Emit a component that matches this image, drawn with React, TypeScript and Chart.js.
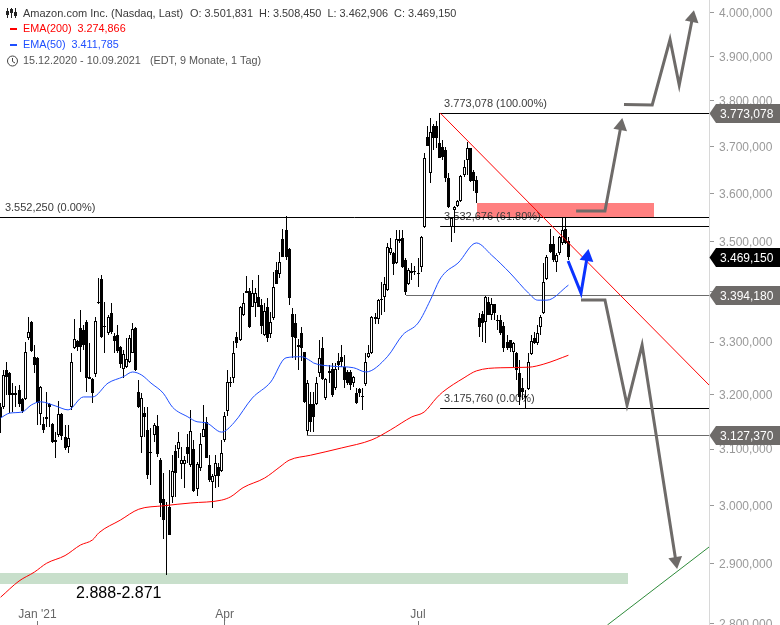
import { useEffect, useRef } from 'react';
import { Chart, registerables, type Plugin } from 'chart.js';

Chart.register(...registerables);

const FONT = '"Liberation Sans", Arial, sans-serif';

// daily candles, 15.12.2020 - 10.09.2021, in USD
const opens = [
  3177, 3177, 3247, 3241, 3200, 3200, 3209, 3192, 3192, 3308, 3339, 3272, 3270, 3164, 3146, 3155, 3183, 3146, 3117, 3126,
  3164, 3122, 3104, 3177, 3289, 3302, 3327, 3323, 3339, 3230, 3230, 3239, 3378, 3424, 3331, 3318, 3357, 3312, 3314, 3291,
  3249, 3252, 3262, 3279, 3327, 3205, 3122, 3166, 3135, 3095, 3126, 3142, 3080, 3011, 3000, 2997, 3015, 3097, 3100, 3073,
  3073, 3104, 3071, 3100, 3029, 3066, 3122, 3150, 3071, 3041, 3052, 3068, 3061, 3117, 3170, 3224, 3232, 3310, 3304, 3353,
  3400, 3400, 3368, 3376, 3388, 3372, 3314, 3368, 3316, 3347, 3442, 3434, 3505, 3524, 3485, 3355, 3337, 3295, 3318, 3281,
  3133, 3183, 3183, 3183, 3241, 3289, 3194, 3241, 3249, 3213, 3264, 3272, 3252, 3243, 3243, 3222, 3203, 3211, 3198, 3220,
  3272, 3279, 3349, 3345, 3384, 3388, 3402, 3476, 3476, 3456, 3501, 3507, 3462, 3414, 3436, 3438, 3436, 3448, 3530, 3720,
  3643, 3744, 3744, 3707, 3699, 3692, 3632, 3530, 3565, 3573, 3584, 3639, 3671, 3697, 3645, 3628, 3347, 3355, 3339, 3378,
  3353, 3374, 3341, 3343, 3331, 3300, 3304, 3281, 3279, 3241, 3213, 3198, 3211, 3277, 3308, 3298, 3329, 3357, 3424, 3495,
  3495, 3458, 3476, 3497, 3526, 3501.831,
];
const highs = [
  3185, 3247, 3262, 3243, 3222, 3217, 3219, 3194, 3300, 3349, 3341, 3295, 3272, 3217, 3159, 3205, 3185, 3148, 3131, 3189,
  3166, 3144, 3144, 3279, 3345, 3304, 3363, 3333, 3343, 3298, 3232, 3349, 3426, 3432, 3378, 3353, 3376, 3318, 3333, 3293,
  3285, 3308, 3314, 3337, 3329, 3228, 3203, 3177, 3177, 3139, 3148, 3163, 3084, 3057, 3006, 3063, 3090, 3108, 3131, 3104,
  3088, 3128, 3172, 3117, 3077, 3129, 3181, 3159, 3090, 3055, 3090, 3075, 3117, 3168, 3247, 3233, 3302, 3320, 3370, 3396,
  3430, 3406, 3422, 3406, 3432, 3384, 3376, 3386, 3359, 3438, 3458, 3479, 3526, 3553, 3487, 3367, 3355, 3306, 3329, 3281,
  3228, 3205, 3205, 3233, 3304, 3310, 3232, 3256, 3260, 3260, 3279, 3295, 3275, 3247, 3247, 3235, 3213, 3213, 3213, 3279,
  3295, 3351, 3357, 3384, 3418, 3428, 3497, 3507, 3478, 3524, 3524, 3524, 3466, 3446, 3456, 3450, 3466, 3511, 3686, 3744,
  3762, 3749, 3755, 3773, 3714, 3699, 3643, 3548, 3573, 3586, 3639, 3671, 3710, 3697, 3649, 3637, 3357, 3361, 3390, 3388,
  3386, 3374, 3353, 3353, 3339, 3314, 3304, 3300, 3281, 3266, 3232, 3209, 3279, 3314, 3320, 3333, 3353, 3456, 3472, 3526,
  3511, 3476, 3511, 3548, 3548, 3508.45,
];
const lows = [
  3129, 3174, 3200, 3166, 3168, 3177, 3177, 3166, 3190, 3304, 3281, 3241, 3144, 3144, 3129, 3140, 3140, 3111, 3084, 3122,
  3117, 3099, 3093, 3172, 3287, 3283, 3243, 3285, 3205, 3230, 3185, 3233, 3374, 3308, 3279, 3314, 3316, 3279, 3279, 3250,
  3232, 3250, 3260, 3279, 3245, 3175, 3093, 3122, 3047, 3036, 3113, 3086, 2980, 2942, 2880, 2948, 3004, 3015, 3084, 3047,
  3031, 3075, 3068, 3023, 3016, 3061, 3122, 3084, 3041, 2995, 3031, 3033, 3059, 3113, 3161, 3215, 3222, 3289, 3302, 3351,
  3396, 3327, 3368, 3349, 3368, 3316, 3312, 3300, 3308, 3343, 3414, 3426, 3468, 3462, 3372, 3270, 3266, 3247, 3264, 3185,
  3126, 3131, 3131, 3181, 3233, 3228, 3190, 3222, 3196, 3209, 3247, 3252, 3213, 3218, 3209, 3215, 3183, 3196, 3172, 3217,
  3270, 3277, 3335, 3335, 3353, 3359, 3400, 3472, 3432, 3454, 3497, 3446, 3392, 3412, 3422, 3432, 3408, 3438, 3528, 3701,
  3622, 3692, 3697, 3675, 3671, 3624, 3569, 3499, 3517, 3571, 3582, 3635, 3639, 3624, 3605, 3580, 3310, 3300, 3298, 3353,
  3343, 3343, 3323, 3314, 3281, 3285, 3281, 3252, 3228, 3181, 3190, 3174, 3209, 3275, 3296, 3295, 3314, 3355, 3422, 3476,
  3458, 3438, 3472, 3493, 3495, 3462.906,
];
const closes = [
  3159, 3237, 3233, 3200, 3203, 3203, 3183, 3170, 3281, 3320, 3283, 3256, 3185, 3215, 3135, 3159, 3177, 3113, 3113, 3164,
  3124, 3102, 3120, 3262, 3306, 3291, 3291, 3295, 3232, 3233, 3203, 3341, 3378, 3310, 3329, 3349, 3320, 3302, 3283, 3258,
  3277, 3268, 3308, 3325, 3247, 3177, 3194, 3159, 3054, 3093, 3144, 3091, 3004, 2974, 2999, 2948, 3061, 3057, 3113, 3080,
  3080, 3091, 3133, 3025, 3073, 3109, 3137, 3084, 3045, 3052, 3075, 3052, 3093, 3161, 3224, 3222, 3279, 3298, 3368, 3376,
  3396, 3329, 3396, 3396, 3368, 3331, 3361, 3308, 3339, 3408, 3414, 3458, 3468, 3468, 3386, 3310, 3308, 3291, 3289, 3187,
  3222, 3150, 3159, 3222, 3270, 3230, 3230, 3245, 3200, 3249, 3256, 3262, 3228, 3222, 3218, 3233, 3185, 3203, 3196, 3262,
  3279, 3349, 3345, 3382, 3382, 3414, 3489, 3487, 3454, 3505, 3505, 3448, 3398, 3442, 3440, 3440, 3434, 3509, 3675, 3701,
  3731, 3718, 3718, 3675, 3677, 3632, 3571, 3548, 3571, 3584, 3637, 3656, 3697, 3626, 3626, 3601, 3329, 3337, 3388, 3353,
  3374, 3357, 3343, 3318, 3289, 3289, 3289, 3298, 3247, 3196, 3205, 3196, 3262, 3302, 3298, 3318, 3349, 3418, 3468, 3479,
  3462, 3472, 3509, 3524, 3497, 3469.15,
];

const ema200Bars = [0, 6, 11, 15, 21, 26, 30, 32, 39, 45, 53, 62, 72, 75, 79, 86, 91, 94, 101, 111, 121, 127, 134, 138, 142, 144, 151, 155, 163, 172, 177, 185];
const ema200Values = [2843, 2870, 2885, 2900, 2913, 2931, 2940, 2952, 2974, 2993, 2999, 3004, 3009, 3015, 3031, 3048, 3068, 3080, 3089, 3102, 3117, 3135, 3159, 3168, 3194, 3205, 3232, 3245, 3251, 3252, 3258, 3274.866];
const ema50Bars = [0, 3, 7, 10, 13, 18, 22, 27, 30, 35, 40, 43, 46, 49, 53, 56, 61, 64, 67, 72, 76, 82, 88, 93, 98, 101, 102, 108, 115, 119, 126, 131, 136, 140, 143, 145, 149, 155, 160, 166, 172, 175, 178, 185];
const ema50Values = [3157, 3166, 3168, 3181, 3187, 3179, 3172, 3196, 3196, 3222, 3234, 3243, 3237, 3222, 3203, 3177, 3159, 3150, 3148, 3131, 3148, 3194, 3224, 3270, 3272, 3264, 3260, 3254, 3251, 3243, 3272, 3314, 3337, 3382, 3422, 3438, 3456, 3497, 3472, 3436, 3396, 3382, 3382, 3411.785];

const yTicks = [4000, 3900, 3800, 3700, 3600, 3500, 3400, 3300, 3200, 3100, 3000, 2900, 2800];
const monthBars = [12, 73, 136];
const monthLabels = ["Jan '21", 'Apr', 'Jul'];

// horizontal levels drawn on the chart
const levelValues = [3552.25, 3773.078, 3532.676, 3175.76, 3394.18, 3127.37];
const levelStarts = [-0.2, 143.2, 143.2, 143.2, 132.1, 99.8];
const levelColors = ['#000', '#000', '#000', '#000', '#6b6b6b', '#6b6b6b'];

const fibValues = [3773.078, 3552.25, 3532.676, 3175.76];
const fibBars = [144.5, 1.4, 144.5, 144.5];
const fibLabels = ['3.773,078 (100.00%)', '3.552,250 (0.00%)', '3.532,676 (61.80%)', '3.175,760 (0.00%)'];

const tagValues = [3773.078, 3469.15, 3394.18, 3127.37];
const tagLabels = ['3.773,078', '3.469,150', '3.394,180', '3.127,370'];
const tagColors = ['#6e6b69', '#000', '#6e6b69', '#6e6b69'];

// trend lines and hand drawn paths, [bar, price]
const redTrend = [[143.2, 3773], [230.8, 3218.4]];
const greenTrend = [[197.7, 2797.2], [230.8, 2927.6]];
const upArrowA = [[187.5, 3562.9], [196.9, 3562.9], [202.1, 3744.4]];
const upArrowB = [[203.1, 3791.7], [212.3, 3790.6], [218.1, 3938.5], [221.1, 3835.2], [225.4, 3988.3]];
const blueArrow = [[184.9, 3460.3], [189.1, 3396.1], [191.1, 3468.4]];
const downArrow = [[189.1, 3382.3], [196.9, 3382.3], [204.1, 3180.9], [209, 3294.5], [220, 2903.8]];

const Y_MIN = 2797.2;
const Y_MAX = 4030.5;
const X_MIN = -0.1955;
const X_MAX = 230.8;

const toPoints = (rows: number[][]) => rows.map(([x, y]) => ({ x, y }));

// levels sit on the pixel row just under their scale position
const levelRow = (pixel: number) => Math.floor(pixel + 1) + 0.5;

function arrow(rows: number[][], color: string, rotation: number) {
  return {
    type: 'line' as const,
    data: toPoints(rows),
    borderColor: color,
    borderWidth: 3,
    borderJoinStyle: 'miter' as const,
    tension: 0,
    order: 0,
    pointStyle: 'triangle',
    pointRadius: rows.map((_, i) => (i === rows.length - 1 ? 8 : 0)),
    pointRotation: rotation,
    pointBackgroundColor: color,
    pointBorderWidth: 0,
  };
}

const snapPlugin: Plugin = {
  id: 'snap',
  afterDatasetsUpdate(chart) {
    chart.data.datasets.forEach((ds: any, i) => {
      const meta = chart.getDatasetMeta(i);
      if (meta.type === 'bar') {
        meta.data.forEach((el: any) => {
          el.x = Math.round(el.x - 0.5) + 0.5;
          el.y = Math.round(el.y);
          el.base = Math.round(el.base);
          if (el.y === el.base) el.base = el.y + 1;
        });
      } else if (ds.snapLevel) {
        meta.data.forEach((el: any) => {
          el.y = levelRow(el.y);
        });
      }
    });
  },
  beforeDraw(chart) {
    // axis labels sit a pixel lower than the tick marks
    (chart.scales.y as any).getLabelItems().forEach((item: any) => {
      if (item.moved) return;
      item.moved = true;
      item.options.translation[1] += 1;
    });
  },
};

const backdropPlugin: Plugin = {
  id: 'backdrop',
  beforeDatasetsDraw(chart) {
    const { ctx, scales } = chart;
    const x = scales.x;
    const y = scales.y;
    ctx.save();

    // zones
    const zone = (x0: number, x1: number, top: number, bottom: number, color: string) => {
      ctx.fillStyle = color;
      const py = Math.round(y.getPixelForValue(top));
      ctx.fillRect(Math.round(x.getPixelForValue(x0)), py, Math.round(x.getPixelForValue(x1) - x.getPixelForValue(x0)), Math.round(y.getPixelForValue(bottom)) - py);
    };
    zone(155.3, 212.9, 3580, 3548, '#ff8080');
    zone(-0.2, 204.3, 2883, 2865, '#c8dfcb');

    ctx.textBaseline = 'alphabetic';
    ctx.textAlign = 'left';
    ctx.font = `11px ${FONT}`;
    ctx.fillStyle = '#3a3a3a';
    fibLabels.forEach((label, i) => {
      ctx.fillText(label, x.getPixelForValue(fibBars[i]), Math.ceil(y.getPixelForValue(fibValues[i])) - 6);
    });

    ctx.font = `16px ${FONT}`;
    ctx.fillStyle = '#000';
    ctx.fillText('2.888-2.871', x.getPixelForValue(24.6), y.getPixelForValue(2865) + 14);
    ctx.restore();
  },
};

const overlayPlugin: Plugin = {
  id: 'overlay',
  afterDraw(chart) {
    const { ctx, scales } = chart;
    const y = scales.y;
    ctx.save();

    // price tags over the axis
    ctx.font = `12px ${FONT}`;
    ctx.textAlign = 'left';
    ctx.textBaseline = 'middle';
    tagValues.forEach((value, i) => {
      const py = levelRow(y.getPixelForValue(value));
      ctx.fillStyle = tagColors[i];
      ctx.beginPath();
      ctx.moveTo(709.5, py);
      ctx.lineTo(716, py - 9.5);
      ctx.lineTo(780, py - 9.5);
      ctx.lineTo(780, py + 9.5);
      ctx.lineTo(716, py + 9.5);
      ctx.closePath();
      ctx.fill();
      ctx.fillStyle = '#fff';
      ctx.fillText(tagLabels[i], 720, py + 1);
    });

    // legend block
    ctx.font = `11px ${FONT}`;
    ctx.textBaseline = 'middle';
    ctx.fillStyle = '#3a3a3a';
    ctx.fillText('Amazon.com Inc. (Nasdaq, Last)', 23, 13.5);
    ctx.font = `10.9px ${FONT}`;
    ctx.fillText('O: 3.501,831  H: 3.508,450  L: 3.462,906  C: 3.469,150', 190, 13.5);
    ctx.font = `10.8px ${FONT}`;
    ctx.fillStyle = '#ff0000';
    ctx.fillText('EMA(200)  3.274,866', 23, 29.5);
    ctx.fillRect(10, 28, 7, 2);
    ctx.fillStyle = '#1f4fff';
    ctx.fillText('EMA(50)  3.411,785', 23, 45.5);
    ctx.fillRect(10, 44, 7, 2);
    ctx.fillStyle = '#555';
    ctx.fillText('15.12.2020 - 10.09.2021', 23, 61.5);
    ctx.fillText('(EDT, 9 Monate, 1 Tag)', 150, 61.5);

    // clock
    ctx.strokeStyle = '#444';
    ctx.lineWidth = 1;
    ctx.beginPath();
    ctx.arc(12.5, 61, 5, 0, Math.PI * 2);
    ctx.moveTo(12.5, 58);
    ctx.lineTo(12.5, 61.5);
    ctx.lineTo(15, 63);
    ctx.stroke();

    // candle icon
    ctx.strokeStyle = '#222';
    [[7.5, 11, 15], [11.5, 9, 13], [15.5, 12, 16]].forEach(([ix, top, bottom]) => {
      ctx.beginPath();
      ctx.moveTo(ix, 8);
      ctx.lineTo(ix, 18);
      ctx.stroke();
      ctx.fillStyle = '#222';
      ctx.fillRect(ix - 1.5, top, 3, bottom - top);
    });
    ctx.restore();
  },
};

export default function App() {
  const canvasRef = useRef<HTMLCanvasElement>(null);

  useEffect(() => {
    if (!canvasRef.current) return;
    document.body.style.margin = '0';

    const chart = new Chart(canvasRef.current, {
      type: 'bar',
      data: {
        datasets: [
          {
            type: 'bar',
            data: opens.map((o, i) => ({ x: i, y: [o, closes[i]] })) as any,
            barThickness: 3,
            grouped: false,
            borderWidth: 1,
            borderColor: '#000',
            borderSkipped: false,
            inflateAmount: 0,
            backgroundColor: opens.map((o, i) => (closes[i] > o ? '#fff' : '#000')),
            order: 2,
          },
          {
            type: 'bar',
            data: lows.map((l, i) => ({ x: i, y: [l, highs[i]] })) as any,
            barThickness: 1,
            grouped: false,
            borderWidth: 0,
            inflateAmount: 0,
            backgroundColor: '#000',
            order: 3,
          },
          ...levelValues.map((value, i) => ({
            type: 'line' as const,
            data: [{ x: levelStarts[i], y: value }, { x: X_MAX, y: value }],
            borderColor: levelColors[i],
            borderWidth: 1,
            pointRadius: 0,
            order: 4,
            snapLevel: true,
          })),
          {
            type: 'line',
            data: ema200Bars.map((x, i) => ({ x, y: ema200Values[i] })),
            borderColor: '#ff0000',
            borderWidth: 1,
            pointRadius: 0,
            cubicInterpolationMode: 'monotone',
            order: 1,
          },
          {
            type: 'line',
            data: ema50Bars.map((x, i) => ({ x, y: ema50Values[i] })),
            borderColor: '#1f4fff',
            borderWidth: 1,
            pointRadius: 0,
            cubicInterpolationMode: 'monotone',
            order: 1,
          },
          {
            type: 'line',
            data: toPoints(redTrend),
            borderColor: '#ff0000',
            borderWidth: 1,
            pointRadius: 0,
            order: 1,
          },
          {
            type: 'line',
            data: toPoints(greenTrend),
            borderColor: '#2e8b3a',
            borderWidth: 1,
            pointRadius: 0,
            order: 1,
          },
          arrow(upArrowA, '#6e6b69', 10),
          arrow(upArrowB, '#6e6b69', 11),
          arrow(blueArrow, '#0b33ff', 9.5),
          arrow(downArrow, '#6e6b69', 171),
        ] as any,
      },
      options: {
        responsive: false,
        devicePixelRatio: 1,
        animation: false,
        layout: { padding: 0, autoPadding: false },
        plugins: { legend: { display: false }, tooltip: { enabled: false } },
        scales: {
          x: {
            type: 'linear',
            offset: false,
            min: X_MIN,
            max: X_MAX,
            afterBuildTicks: (scale) => {
              scale.ticks = monthBars.map((value) => ({ value }));
            },
            afterFit: (scale: any) => {
              scale.height = 0;
              scale.paddingLeft = 0;
              scale.paddingRight = 0;
            },
            border: { display: false },
            grid: { drawOnChartArea: false, tickLength: -4, tickColor: '#777', offset: false },
            ticks: {
              autoSkip: false,
              maxRotation: 0,
              mirror: true,
              padding: 3,
              color: '#666',
              font: { family: FONT, size: 12 },
              callback: (value) => monthLabels[monthBars.indexOf(Number(value))],
            },
          },
          y: {
            type: 'logarithmic',
            position: 'right',
            min: Y_MIN,
            max: Y_MAX,
            afterBuildTicks: (scale) => {
              scale.ticks = yTicks.map((value) => ({ value }));
            },
            afterFit: (scale: any) => {
              scale.width = 71;
              scale.paddingTop = 0;
              scale.paddingBottom = 0;
            },
            border: { display: true, color: '#d8d8d8' },
            grid: { drawOnChartArea: false, tickLength: 5, tickColor: '#999' },
            ticks: {
              autoSkip: false,
              padding: 5,
              color: '#999',
              font: { family: FONT, size: 12 },
              callback: (value) => {
                const text = String(Number(value));
                return `${text[0]}.${text.slice(1)},000`;
              },
            },
          },
        },
      },
      plugins: [snapPlugin, backdropPlugin, overlayPlugin],
    });

    return () => chart.destroy();
  }, []);

  return <canvas ref={canvasRef} width={780} height={625} style={{ display: 'block' }} />;
}
